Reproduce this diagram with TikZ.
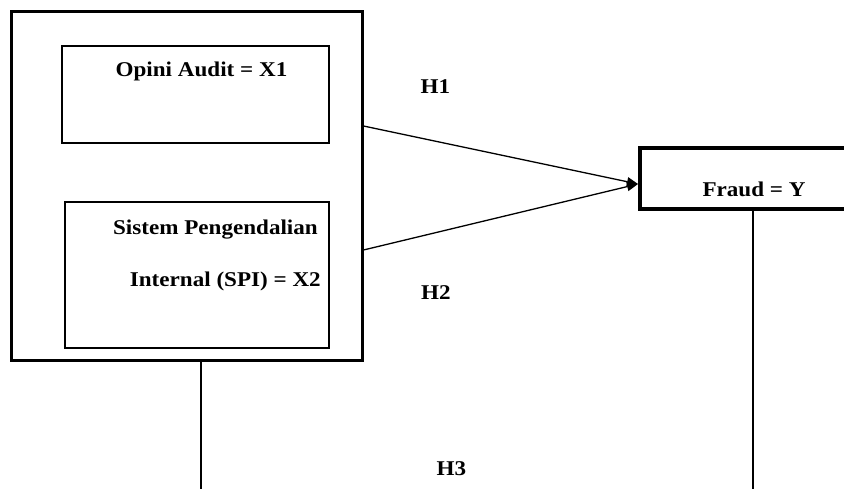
\documentclass[tikz,border=0pt]{standalone}
\usepackage{fontspec}
\setmainfont{Liberation Serif}
\usetikzlibrary{arrows.meta,calc}
\tikzset{
  lbl/.style={font=\fontsize{21}{25}\selectfont\bfseries, inner sep=0pt},
  outerbox/.style={draw, line width=3pt, inner sep=0pt},
  innerbox/.style={draw, line width=1.4pt, inner sep=0pt},
  fraudbox/.style={draw, line width=4pt, inner sep=0pt},
  link/.style={line width=1.3pt},
  arr/.style={link, -{Triangle[length=11pt,width=9pt]}}
}
\newcommand{\widetxt}[1]{\scalebox{1.1}[1]{#1}}
\begin{document}
\begin{tikzpicture}[x=1pt,y=-1pt]
\useasboundingbox (0,0) rectangle (844,489);
\clip (0,0) rectangle (844,489);
% boxes
\node[outerbox, minimum width=351pt, minimum height=348pt] (outer) at (186.5,186) {};
\node[innerbox, minimum width=267pt, minimum height=97pt] (x1) at (195.5,94.5) {};
\node[innerbox, minimum width=264pt, minimum height=146pt] (x2) at (197,275) {};
\node[fraudbox, minimum width=240pt, minimum height=61pt] (fraud) at (760,178.5) {};
% texts
\node[lbl, anchor=base] (t1) at (201.5,77) {\widetxt{Opini Audit = X1}};
\node[lbl, anchor=base east] (t2) at (318,235) {\widetxt{Sistem Pengendalian}};
\node[lbl, anchor=base east] (t3) at (321,287) {\widetxt{Internal (SPI) = X2}};
\node[lbl, anchor=base] (tf) at (754,197) {\widetxt{Fraud = Y}};
\node[lbl, anchor=base] (h1) at (435.5,94) {\widetxt{H1}};
\node[lbl, anchor=base] (h2) at (436,300) {\widetxt{H2}};
\node[lbl, anchor=base] (h3) at (451.5,475) {\widetxt{H3}};
% connectors
\coordinate (s1) at (outer.east |- 0,126);
\coordinate (s2) at (outer.east |- 0,250);
\coordinate (tip) at (fraud.west |- 0,184);
\draw[arr] (s1) -- (tip);
\draw[arr] (s2) -- (tip);
\coordinate (b1) at (outer.south -| 201,0);
\coordinate (e1) at (201,489);
\coordinate (b2) at (fraud.south -| 753,0);
\coordinate (e2) at (753,489);
\draw[link] (b1) -- (e1);
\draw[link] (b2) -- (e2);
\end{tikzpicture}
\end{document}
